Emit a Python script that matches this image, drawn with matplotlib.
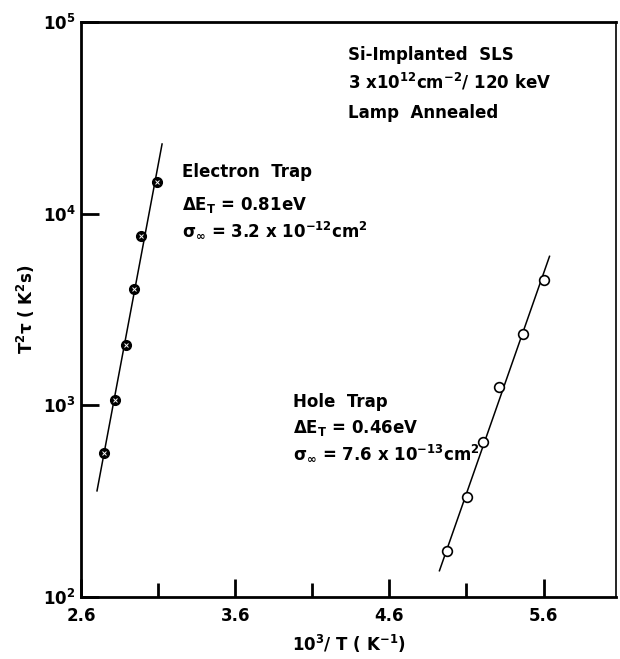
"""Arrhenius plot of electron and hole traps in Si-implanted SLS."""

import numpy as np
import matplotlib

matplotlib.use("Agg")
import matplotlib.pyplot as plt

plt.rcParams["font.family"] = ["DejaVu Sans"]
plt.rcParams["font.weight"] = "bold"
plt.rcParams["axes.labelweight"] = "bold"
plt.rcParams["mathtext.default"] = "bf"

# electron trap (filled symbols)
electron_x = [2.749, 2.821, 2.892, 2.944, 2.990, 3.094]
electron_y = [565, 1070, 2070, 4050, 7650, 14600]
electron_fit_x = [2.704, 3.126]

# hole trap (open symbols)
hole_x = [4.977, 5.106, 5.210, 5.314, 5.464, 5.600]
hole_y = [174, 333, 645, 1250, 2360, 4510]
hole_fit_x = [4.925, 5.639]

x_major = [2.6, 3.6, 4.6, 5.6]
x_minor = [3.1, 4.1, 5.1]
y_ticks = [1e2, 1e3, 1e4, 1e5]
y_tick_labels = [r"$10^2$", r"$10^3$", r"$10^4$", r"$10^5$"]


def fit_line(xs, ys, x_range):
    slope, icpt = np.polyfit(xs, np.log10(ys), 1)
    xr = np.array(x_range)
    return xr, 10 ** (slope * xr + icpt)


fig = plt.figure(figsize=(6.2, 6.59), dpi=100)
ax = fig.add_axes([0.1306, 0.094, 0.8629, 0.8726])

lx, ly = fit_line(electron_x, electron_y, electron_fit_x)
ax.plot(lx, ly, color="black", lw=1.1)
ax.plot(electron_x, electron_y, "o", ms=7, mfc="black", mec="black", zorder=3)
ax.plot(electron_x, electron_y, "x", ms=3.5, mec="white", mew=0.7, zorder=4)

lx, ly = fit_line(hole_x, hole_y, hole_fit_x)
ax.plot(lx, ly, color="black", lw=1.1)
ax.plot(hole_x, hole_y, "o", ms=7, mfc="white", mec="black", mew=1.2, zorder=3)

ax.set_yscale("log")
ax.set_xlim(2.6, 6.07)
ax.set_ylim(1e2, 1e5)

ax.set_xticks(x_major)
ax.set_xticklabels([f"{v:.1f}" for v in x_major])
ax.set_xticks(x_minor, minor=True)
ax.set_yticks(y_ticks)
ax.set_yticklabels(y_tick_labels)
ax.yaxis.set_minor_locator(matplotlib.ticker.NullLocator())
ax.tick_params(axis="x", which="major", direction="in", length=13, width=2,
               labelsize=12, pad=7, top=False)
ax.tick_params(axis="x", which="minor", direction="in", length=10, width=2, top=False)
ax.tick_params(axis="y", which="major", direction="in", length=13, width=2,
               labelsize=12, pad=4, right=False)

for side in ["left", "bottom", "top"]:
    ax.spines[side].set_linewidth(2)
ax.spines["right"].set_linewidth(1.2)

ax.set_xlabel(r"10$^3$/ T ( K$^{-1}$)", fontsize=12, labelpad=6)
ax.set_ylabel(r"T$^2$$\tau$ ( K$^2$s)", fontsize=12, labelpad=4)


def px(x, y):
    return (x / 620, 1 - y / 659)


kw = dict(transform=fig.transFigure, fontsize=12, ha="left", va="center")
fig.text(*px(348, 55), "Si-Implanted  SLS", **kw)
fig.text(*px(348, 82), r"3 x10$^{12}$cm$^{-2}$/ 120 keV", **kw)
fig.text(*px(348, 113), "Lamp  Annealed", **kw)

fig.text(*px(182, 172), "Electron  Trap", **kw)
fig.text(*px(182, 205), r"$\Delta$E$_T$ = 0.81eV", **kw)
fig.text(*px(182, 230), r"$\sigma_\infty$ = 3.2 x 10$^{-12}$cm$^2$", **kw)

fig.text(*px(293, 402), "Hole  Trap", **kw)
fig.text(*px(293, 428), r"$\Delta$E$_T$ = 0.46eV", **kw)
fig.text(*px(293, 453), r"$\sigma_\infty$ = 7.6 x 10$^{-13}$cm$^2$", **kw)

fig.savefig("out.png", dpi=100)
